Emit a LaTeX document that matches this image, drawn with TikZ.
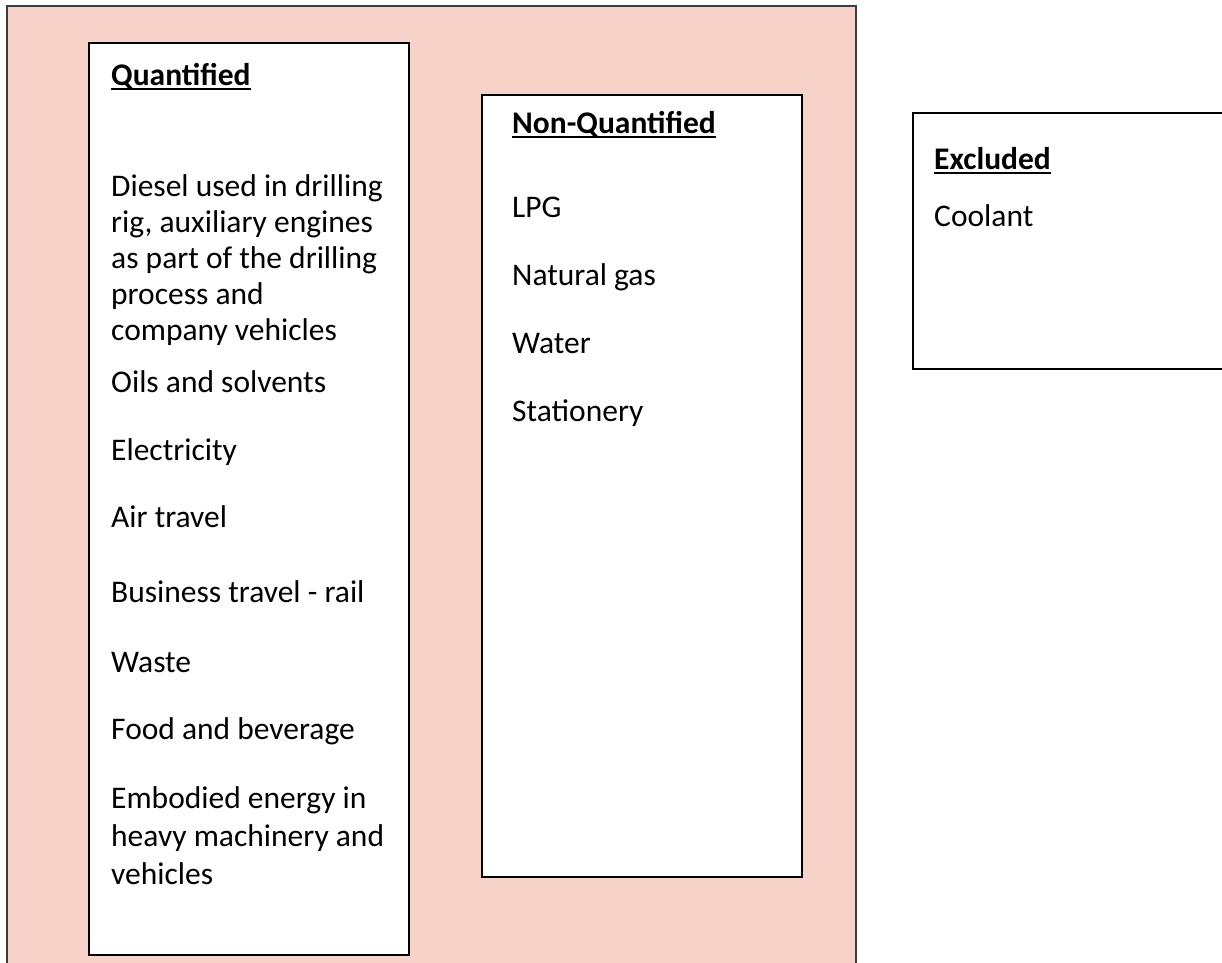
\documentclass[tikz,border=0pt]{standalone}
\usepackage{fontspec}
\setmainfont{Carlito}
\definecolor{panelpink}{RGB}{246,210,200}
\definecolor{panelline}{RGB}{60,60,60}
\newsavebox{\hdbox}
\newcommand{\headul}[1]{\sbox{\hdbox}{\bfseries #1}\rlap{\rule[-4.5pt]{\wd\hdbox}{2pt}}\usebox{\hdbox}}
\tikzset{
  panel/.style={draw=panelline, line width=1.6pt, fill=panelpink},
  listbox/.style={draw=black, line width=1.6pt, fill=white},
  item/.style={anchor=base west, inner sep=0pt, font=\fontsize{31.5}{36}\selectfont},
  para/.style={item, text width=290pt, align=flush left},
}
\begin{document}
\begin{tikzpicture}[x=1pt,y=-1pt]
\useasboundingbox (0,0) rectangle (1222,962);
\clip (0,0) rectangle (1222,962);
\fill[white] (0,0) rectangle (1222,962);

% outer shaded panel (runs past the lower edge)
\draw[panel] (7,6) rectangle (856,1000);

% list boxes
\draw[listbox] (89,43) rectangle (409,955);
\draw[listbox] (482,95) rectangle (802,877);
\draw[listbox] (913,113) rectangle (1240,369);

% Quantified column
\node[item] (q0) at (111,85) {\headul{Quantified}};
\node[para] (q1) at (111,196) {Diesel used in drilling\\ rig, auxiliary engines\\ as part of the drilling\\ process and\\ company vehicles};
\node[item] (q2) at (111,392) {Oils and solvents};
\node[item] (q3) at (111,460) {Electricity};
\node[item] (q4) at (111,527) {Air travel};
\node[item] (q5) at (111,602) {Business travel - rail};
\node[item] (q6) at (111,672) {Waste};
\node[item] (q7) at (111,739) {Food and beverage};
\node[para, font=\fontsize{31.5}{38}\selectfont] (q8) at (111,808) {Embodied energy in\\ heavy machinery and\\ vehicles};

% Non-Quantified column
\node[item] (n0) at (512,133) {\headul{Non-Quantified}};
\node[item] (n1) at (512,217) {LPG};
\node[item] (n2) at (512,285) {Natural gas};
\node[item] (n3) at (512,353) {Water};
\node[item] (n4) at (512,421) {Stationery};

% Excluded column
\node[item] (e0) at (934,169) {\headul{Excluded}};
\node[item] (e1) at (934,226) {Coolant};
\end{tikzpicture}
\end{document}
